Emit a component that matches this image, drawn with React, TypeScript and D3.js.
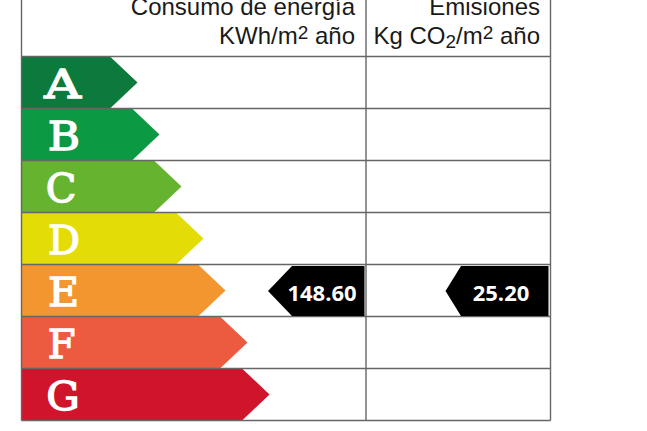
import * as d3 from 'd3';

const ratings = ['A', 'B', 'C', 'D', 'E', 'F', 'G'];
const arrowTips = [116, 138, 160, 182, 204, 226, 248];
const arrowColors = ['#0c7a3c', '#0b9a43', '#65b32e', '#e3dc06', '#f49630', '#ec5a3f', '#cf142b'];

const energyRating = 'E';
const energyValue = '148.60';
const emissionRating = 'E';
const emissionValue = '25.20';

const width = 647;
const height = 431;
const left = 21.5;
const midCol = 366;
const right = 550.5;
const top = 56.5;
const bottom = 420.5;
const lineColor = '#666666';

// the letters are wider than any installed serif, so each one gets stretched a bit
const letterFit: Record<string, [number, number]> = {
  A: [62.5, 1.27],
  B: [64, 1.1],
  C: [61, 1.0],
  D: [64, 1.0],
  E: [63.5, 1.07],
  F: [61.5, 1.0],
  G: [63, 1.05],
};

const App = () => {
  const y = d3.scaleBand<string>().domain(ratings).range([top, bottom]);
  // tip distance from the left border
  const x = d3.scaleLinear().domain([0, 248]).range([left, left + 248]);
  const line = d3.line<[number, number]>();

  const arrow = (r: string, i: number) => {
    const y0 = y(r)!;
    const h = y.bandwidth();
    const tip = x(arrowTips[i]);
    return line([
      [left, y0],
      [tip - 27.5, y0],
      [tip, y0 + h / 2],
      [tip - 27.5, y0 + h],
      [left, y0 + h],
    ])!;
  };

  const marker = (r: string, tipX: number, bodyX: number, endX: number) => {
    const y0 = y(r)! + 1.5;
    const h = y.bandwidth() - 2;
    return line([
      [tipX, y0 + h / 2],
      [bodyX, y0],
      [endX, y0],
      [endX, y0 + h],
      [bodyX, y0 + h],
    ])!;
  };

  return (
    <svg
      width={width}
      height={height}
      viewBox={`0 0 ${width} ${height}`}
      style={{ position: 'absolute', left: 0, top: 0, background: '#fff' }}
    >
      {ratings.map((r, i) => (
        <path key={r} d={arrow(r, i)} fill={arrowColors[i]} />
      ))}

      {ratings.map(r => (
        <text
          key={r}
          transform={`translate(${letterFit[r][0]},${y(r)! + 41}) scale(${letterFit[r][1]},1)`}
          textAnchor="middle"
          fontFamily="'DejaVu Serif'"
          fontSize={40}
          fill="#fff"
          stroke="#fff"
          strokeWidth={1.3}
        >
          {r}
        </text>
      ))}

      {/* grid */}
      <g stroke={lineColor} strokeWidth={1.4} fill="none">
        <path d={`M${left},0V${bottom}`} />
        <path d={`M${midCol},0V${bottom}`} />
        <path d={`M${right},0V${bottom}`} />
        {[...ratings.map(r => y(r)!), bottom].map(v => (
          <path key={v} d={`M${left},${v}H${right}`} />
        ))}
      </g>

      {/* markers */}
      <path d={marker(energyRating, 268, 292, 364.5)} fill="#000" />
      <path d={marker(emissionRating, 445.5, 461, 548.5)} fill="#000" />
      <g fontFamily="'Open Sans'" fontWeight="bold" fontSize={22} fill="#fff" textAnchor="middle">
        <text x={322} y={y(energyRating)! + 36}>{energyValue}</text>
        <text x={501} y={y(emissionRating)! + 36}>{emissionValue}</text>
      </g>

      {/* header */}
      <g fontFamily="'Liberation Sans'" fontSize={24} fill="#1a1a1a" textAnchor="end">
        <text x={355} y={15}>Consumo de energía</text>
        <text x={355} y={44}>
          KWh/m<tspan fontSize={19} dy={-5}>2</tspan>
          <tspan dy={5}> año</tspan>
        </text>
        <text x={540} y={15}>Emisiones</text>
        <text x={540} y={44}>
          Kg CO<tspan fontSize={19} dy={4}>2</tspan>
          <tspan dy={-4}>/m</tspan>
          <tspan fontSize={19} dy={-5}>2</tspan>
          <tspan dy={5}> año</tspan>
        </text>
      </g>
    </svg>
  );
};

export default App;
